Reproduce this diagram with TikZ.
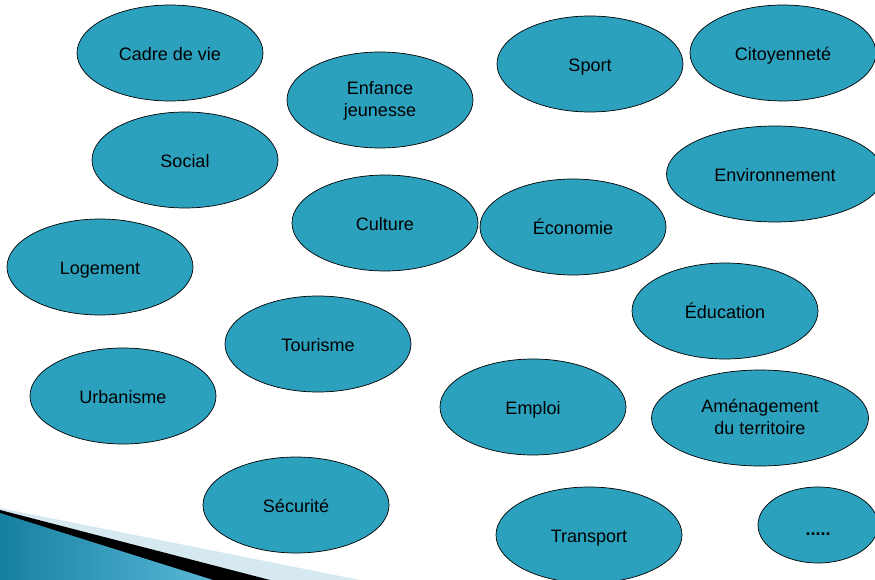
\documentclass[tikz,border=0pt]{standalone}
\usepackage{fontspec}
\setmainfont{Liberation Sans}
\usetikzlibrary{shapes.geometric}
\definecolor{themeblue}{RGB}{44,161,190}
\definecolor{bardark}{RGB}{22,128,160}
\definecolor{barlight}{RGB}{90,184,216}
\definecolor{barpale}{RGB}{214,233,240}
\tikzset{
	topic/.style={ellipse, draw=black, line width=0.7pt, fill=themeblue,
		minimum width=186pt, minimum height=96pt, inner sep=0pt,
		font=\fontsize{18}{22}\selectfont, text=black,
		text height=15pt, text depth=0pt},
	wide topic/.style={topic, minimum width=217pt},
	twolines/.style={align=center, text height=33pt, text depth=0pt},
}

\begin{document}
\begin{tikzpicture}[x=1pt, y=-1pt]
\useasboundingbox (0,0) rectangle (875,580);
\clip (0,0) rectangle (875,580);

% corner ribbon
\fill[barpale] (0,508) -- (360,580) -- (0,580) -- cycle;
\fill[black] (0,510) -- (270,580) -- (0,580) -- cycle;
\shade[left color=bardark, right color=barlight] (0,513) -- (213,580) -- (0,580) -- cycle;

% themes
\node[topic] (cadre) at (170,53) {Cadre de vie};
\node[topic, twolines] (enfance) at (380,100) {Enfance\\jeunesse};
\node[topic] (sport) at (590,64) {Sport};
\node[topic] (citoyen) at (783,53) {Citoyenneté};
\node[topic] (social) at (185,160) {Social};
\node[wide topic] (environ) at (775,174) {Environnement};
\node[topic] (culture) at (385,223) {Culture};
\node[topic] (economie) at (573,227) {Économie};
\node[topic] (logement) at (100,267) {Logement};
\node[topic] (education) at (725,311) {Éducation};
\node[topic] (tourisme) at (318,344) {Tourisme};
\node[topic] (urbanisme) at (123,396) {Urbanisme};
\node[topic] (emploi) at (533,407) {Emploi};
\node[wide topic, twolines] (amenag) at (760,418) {Aménagement\\du territoire};
\node[topic] (securite) at (296,505) {Sécurité};
\node[topic] (transport) at (589,535) {Transport};
\node[topic, minimum width=120pt, minimum height=76pt, text height=21pt,
	font=\fontsize{18}{22}\selectfont\bfseries] (autres) at (818,525) {.....};
\end{tikzpicture}
\end{document}
